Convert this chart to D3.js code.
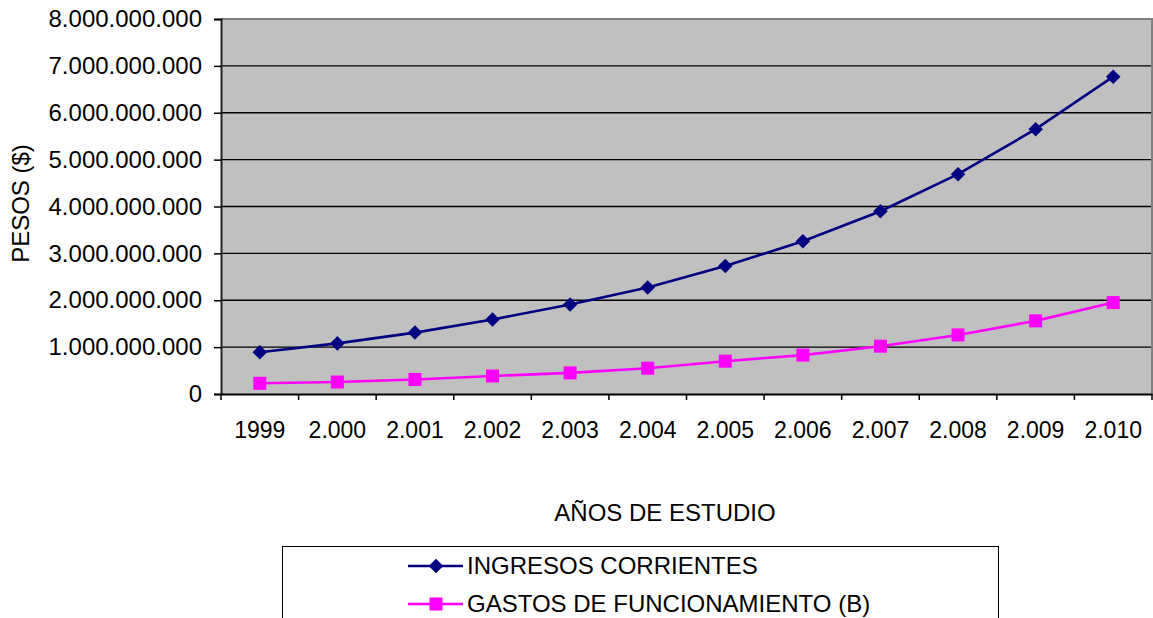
<!DOCTYPE html>
<html>
<head>
<meta charset="utf-8">
<script src="https://cdn.jsdelivr.net/npm/d3@7"></script>
<style>
  html, body { margin: 0; padding: 0; background: #fff; }
  svg { display: block; font-family: "Liberation Sans", Arial, sans-serif; }
</style>
</head>
<body>
<svg id="chart" width="1153" height="618"></svg>
<script>
// Years shown on the category axis
const years = ["1999", "2.000", "2.001", "2.002", "2.003", "2.004", "2.005", "2.006", "2.007", "2.008", "2.009", "2.010"];

// Current income (pesos)
const ingresosCorrientes = [890000000, 1080000000, 1310000000, 1590000000, 1910000000, 2270000000, 2730000000, 3260000000, 3900000000, 4690000000, 5650000000, 6770000000];

// Operating expenses (pesos)
const gastosFuncionamiento = [228000000, 256000000, 310000000, 384000000, 450000000, 550000000, 700000000, 830000000, 1020000000, 1260000000, 1560000000, 1950000000];

// Value-axis ticks
const yTicks = [0, 1000000000, 2000000000, 3000000000, 4000000000, 5000000000, 6000000000, 7000000000, 8000000000];

const seriesNames = ["INGRESOS CORRIENTES", "GASTOS DE FUNCIONAMIENTO (B)"];
const seriesColors = ["#000080", "#ff00ff"];

const svg = d3.select("#chart");
const plot = { left: 221, right: 1152, top: 19, bottom: 394 };

const x = d3.scaleBand().domain(years).range([plot.left, plot.right]).padding(0);
const y = d3.scaleLinear().domain([0, 8000000000]).range([plot.bottom, plot.top]);

const esLocale = d3.formatLocale({ decimal: ",", thousands: ".", grouping: [3], currency: ["$", ""] });
const fmt = esLocale.format(",.0f");

// Plot area background
svg.append("rect")
  .attr("x", plot.left).attr("y", plot.top)
  .attr("width", plot.right - plot.left).attr("height", plot.bottom - plot.top)
  .attr("fill", "#c0c0c0");

// Horizontal gridlines
svg.append("g").selectAll("line")
  .data(yTicks.filter(d => d > 0 && d < 8000000000))
  .join("line")
  .attr("x1", plot.left).attr("x2", plot.right)
  .attr("y1", d => y(d)).attr("y2", d => y(d))
  .attr("stroke", "#000").attr("stroke-width", 1.3);

// Plot area border (top and right)
svg.append("path")
  .attr("d", `M${plot.left},${plot.top}H${plot.right}V${plot.bottom}`)
  .attr("fill", "none").attr("stroke", "#808080").attr("stroke-width", 2);

// Value axis
const yAxis = svg.append("g")
  .attr("transform", `translate(${plot.left},0)`)
  .call(d3.axisLeft(y).tickValues(yTicks).tickSize(7).tickPadding(12).tickFormat(fmt));
yAxis.select(".domain").attr("stroke", "#222").attr("stroke-width", 2);
yAxis.selectAll(".tick line").attr("stroke", "#000").attr("stroke-width", 1.5);
yAxis.selectAll("text").attr("font-size", 24).attr("fill", "#000")
  .attr("font-family", "Liberation Sans, Arial, sans-serif");

// Category axis: labels centred in each band, tick marks on the band edges
const xAxis = svg.append("g")
  .attr("transform", `translate(0,${plot.bottom})`)
  .call(d3.axisBottom(x).tickSize(0).tickPadding(28));
xAxis.select(".domain").attr("stroke", "#000").attr("stroke-width", 2);
xAxis.selectAll("text").attr("font-size", 23).attr("fill", "#000")
  .attr("font-family", "Liberation Sans, Arial, sans-serif");

const edges = years.map(d => x(d)).concat([x.range()[1]]);
svg.append("g").selectAll("line")
  .data(edges)
  .join("line")
  .attr("x1", d => d).attr("x2", d => d)
  .attr("y1", plot.bottom).attr("y2", plot.bottom + 6)
  .attr("stroke", "#000").attr("stroke-width", 1.5);

// Axis titles
svg.append("text")
  .attr("transform", `translate(29,${(plot.top + plot.bottom) / 2 - 3}) rotate(-90)`)
  .attr("text-anchor", "middle")
  .attr("font-size", 24)
  .text("PESOS ($)");

svg.append("text")
  .attr("x", 665).attr("y", 521)
  .attr("text-anchor", "middle")
  .attr("font-size", 24)
  .text("AÑOS DE ESTUDIO");

// Series lines and markers
const cx = d => x(d) + x.bandwidth() / 2;
const line = d3.line().x(d => cx(d.year)).y(d => y(d.value));

const diamond = d3.symbol().type(d3.symbolDiamond2).size(135);
const square = d3.symbol().type(d3.symbolSquare).size(170);

const series = [ingresosCorrientes, gastosFuncionamiento].map((vals, i) =>
  vals.map((v, j) => ({ year: years[j], value: v })));

series.forEach((pts, i) => {
  svg.append("path")
    .datum(pts)
    .attr("d", line)
    .attr("fill", "none")
    .attr("stroke", seriesColors[i])
    .attr("stroke-width", 2.6);
  svg.append("g").selectAll("path")
    .data(pts)
    .join("path")
    .attr("transform", d => `translate(${cx(d.year)},${y(d.value)})`)
    .attr("d", i === 0 ? diamond() : square())
    .attr("fill", seriesColors[i]);
});

// Legend
svg.append("rect")
  .attr("x", 282.5).attr("y", 546.5)
  .attr("width", 716).attr("height", 100)
  .attr("fill", "#fff").attr("stroke", "#000").attr("stroke-width", 1);

const legendRows = [566, 604];
seriesNames.forEach((name, i) => {
  const g = svg.append("g").attr("transform", `translate(0,${legendRows[i]})`);
  g.append("line")
    .attr("x1", 408).attr("x2", 463).attr("y1", 0).attr("y2", 0)
    .attr("stroke", seriesColors[i]).attr("stroke-width", 2.6);
  g.append("path")
    .attr("transform", "translate(436,0)")
    .attr("d", i === 0 ? diamond() : square())
    .attr("fill", seriesColors[i]);
  g.append("text")
    .attr("x", 467).attr("y", 0).attr("dy", "0.35em")
    .attr("font-size", 24)
    .text(name);
});
</script>
</body>
</html>
